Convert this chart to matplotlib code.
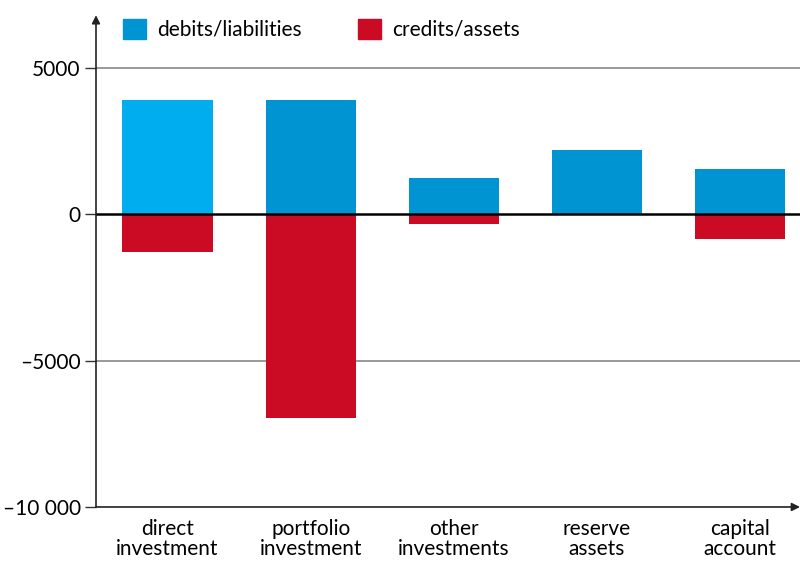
import numpy as np
import matplotlib.pyplot as plt
from matplotlib.patches import Patch

plt.rcParams['font.family'] = ['Lato', 'DejaVu Sans']

categories = ['direct\ninvestment', 'portfolio\ninvestment', 'other\ninvestments',
              'reserve\nassets', 'capital\naccount']
debits = [3900, 3900, 1230, 2180, 1540]
credits = [-1300, -6950, -340, 0, -850]
yticks = [5000, 0, -5000, -10000]
ytick_labels = ['5000', '0', '\u20135000', '\u201310 000']

light_blue = '#00aeef'
blue = '#0094d2'
red = '#cb0a24'

fig = plt.figure(figsize=(8, 5.63), dpi=100)
ax = fig.add_axes([0.12, 0.0995, 0.88, 0.8735])

x = np.arange(len(categories))
w = 0.63
deb_colors = [light_blue] + [blue] * (len(categories) - 1)
ax.bar(x, debits, w, color=deb_colors, zorder=2)
ax.bar(x, credits, w, color=red, zorder=2)

ax.set_xlim(-0.5, 4.42)
ax.set_ylim(-10000, 6800)

for yv in [5000, -5000]:
    ax.axhline(yv, color='#888888', lw=1.2, zorder=1)
ax.axhline(0, color='black', lw=1.8, zorder=3)

for s in ['top', 'right', 'left', 'bottom']:
    ax.spines[s].set_visible(False)

# axes with arrows
ax.annotate('', xy=(0, 1.0), xytext=(0, 0), xycoords='axes fraction',
            arrowprops=dict(arrowstyle='-|>', color='#222222', lw=1.2,
                            mutation_scale=12, shrinkA=0, shrinkB=0))
ax.annotate('', xy=(1.0, 0), xytext=(0, 0), xycoords='axes fraction',
            arrowprops=dict(arrowstyle='-|>', color='#222222', lw=1.2,
                            mutation_scale=12, shrinkA=0, shrinkB=0))

ax.set_yticks(yticks)
ax.set_yticklabels(ytick_labels, fontsize=15)
ax.tick_params(axis='y', length=8, width=1, color='#333333', pad=3)
ax.set_xticks(x)
ax.set_xticklabels(categories, fontsize=15, linespacing=1.0)
ax.tick_params(axis='x', length=0, pad=9)

handles = [Patch(color=blue, label='debits/liabilities'),
           Patch(color=red, label='credits/assets')]
ax.legend(handles=handles, ncol=2, loc='upper left', bbox_to_anchor=(0.038, 0.993),
          frameon=False, fontsize=15, handlelength=1.1, handleheight=1.1,
          columnspacing=2.7, handletextpad=0.55, borderaxespad=0, borderpad=0)

fig.savefig('out.png', dpi=100)
